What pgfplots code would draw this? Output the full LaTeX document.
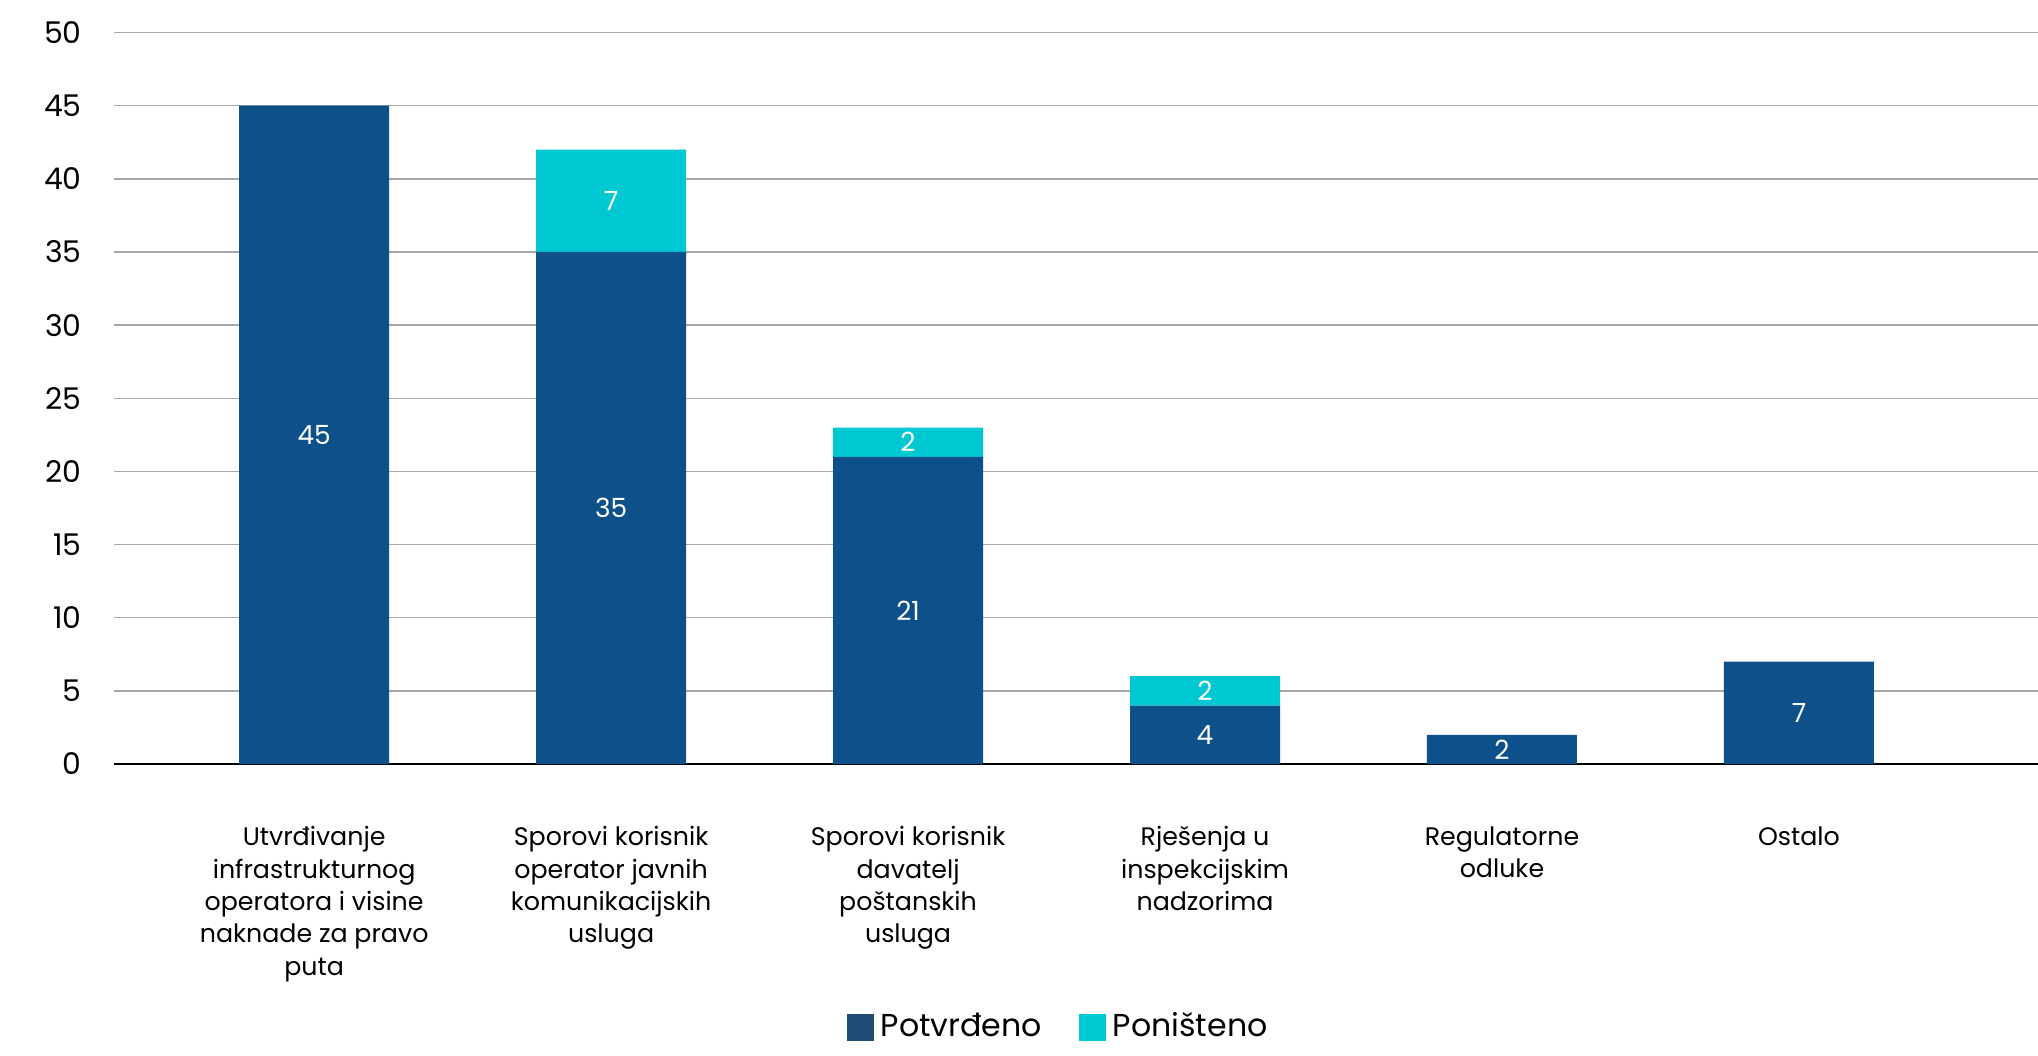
\documentclass[border=0pt]{standalone}
\usepackage{fontspec}
\setmainfont{Poppins}
\usepackage{pgfplots}
\pgfplotsset{compat=1.18}
\definecolor{barblue}{HTML}{0E518A}
\definecolor{legblue}{HTML}{204B74}
\definecolor{barcyan}{HTML}{00C8D3}
\definecolor{gridgray}{HTML}{A8A8A8}
\begin{document}
\begin{tikzpicture}
\begin{axis}[
  scale only axis,
  width=19.24cm, height=7.315cm,
  ybar stacked, bar width=1.5cm,
  xmin=-0.674, xmax=5.805,
  ymin=0, ymax=50,
  ytick={0,5,...,50},
  xtick={0,1,2,3,4,5},
  xticklabels={{Utvrđivanje\\infrastrukturnog\\operatora i visine\\naknade za pravo\\puta},
               {Sporovi korisnik\\operator javnih\\komunikacijskih\\usluga},
               {Sporovi korisnik\\davatelj\\poštanskih\\usluga},
               {Rješenja u\\inspekcijskim\\nadzorima},
               {Regulatorne\\odluke},
               {Ostalo}},
  xticklabel style={align=center, anchor=north, font=\fontsize{7.2}{9.2}\selectfont, yshift=-0.5cm},
  yticklabel style={font=\fontsize{8.5}{10}\selectfont, anchor=east, xshift=-0.2cm},
  /pgf/number format/assume math mode=true,
  major tick length=0pt,
  axis line style={draw=none},
  ymajorgrids, grid style={gridgray, line width=0.4pt},
  extra y ticks={0}, extra y tick labels={},
  extra y tick style={grid style={black, line width=0.7pt}},
  legend style={at={(0.492,-0.32)}, anchor=north, draw=none, fill=none,
    legend columns=2, font=\fontsize{9}{11}\selectfont,
    /tikz/every even column/.append style={column sep=0.3cm}},
  legend cell align=left,
]
\addplot[fill=barblue, draw=none,
  legend image code/.code={\fill[legblue] (0cm,-0.135cm) rectangle (0.27cm,0.135cm);}]
  coordinates {(0,45) (1,35) (2,21) (3,4) (4,2) (5,7)};
\addlegendentry{Potvrđeno}
\addplot[fill=barcyan, draw=none,
  legend image code/.code={\fill[barcyan] (0cm,-0.135cm) rectangle (0.27cm,0.135cm);}]
  coordinates {(0,0) (1,7) (2,2) (3,2) (4,0) (5,0)};
\addlegendentry{Poništeno}
\end{axis}
\begin{axis}[
  scale only axis,
  width=19.24cm, height=7.315cm,
  xmin=-0.674, xmax=5.805,
  ymin=0, ymax=50,
  hide axis,
]
\addplot[draw=none, mark=none,
  nodes near coords, point meta=explicit symbolic,
  every node near coord/.style={anchor=center, text=white, font=\fontsize{7.5}{9}\selectfont}]
  coordinates {(0,22.5)[45] (1,17.5)[35] (1,38.5)[7] (2,10.5)[21] (2,22)[2] (3,2)[4] (3,5)[2] (4,1)[2] (5,3.5)[7]};
\end{axis}
\pgfresetboundingbox
\path[use as bounding box] (-1.14cm,-2.91cm) rectangle (19.24cm,7.64cm);
\end{tikzpicture}
\end{document}
